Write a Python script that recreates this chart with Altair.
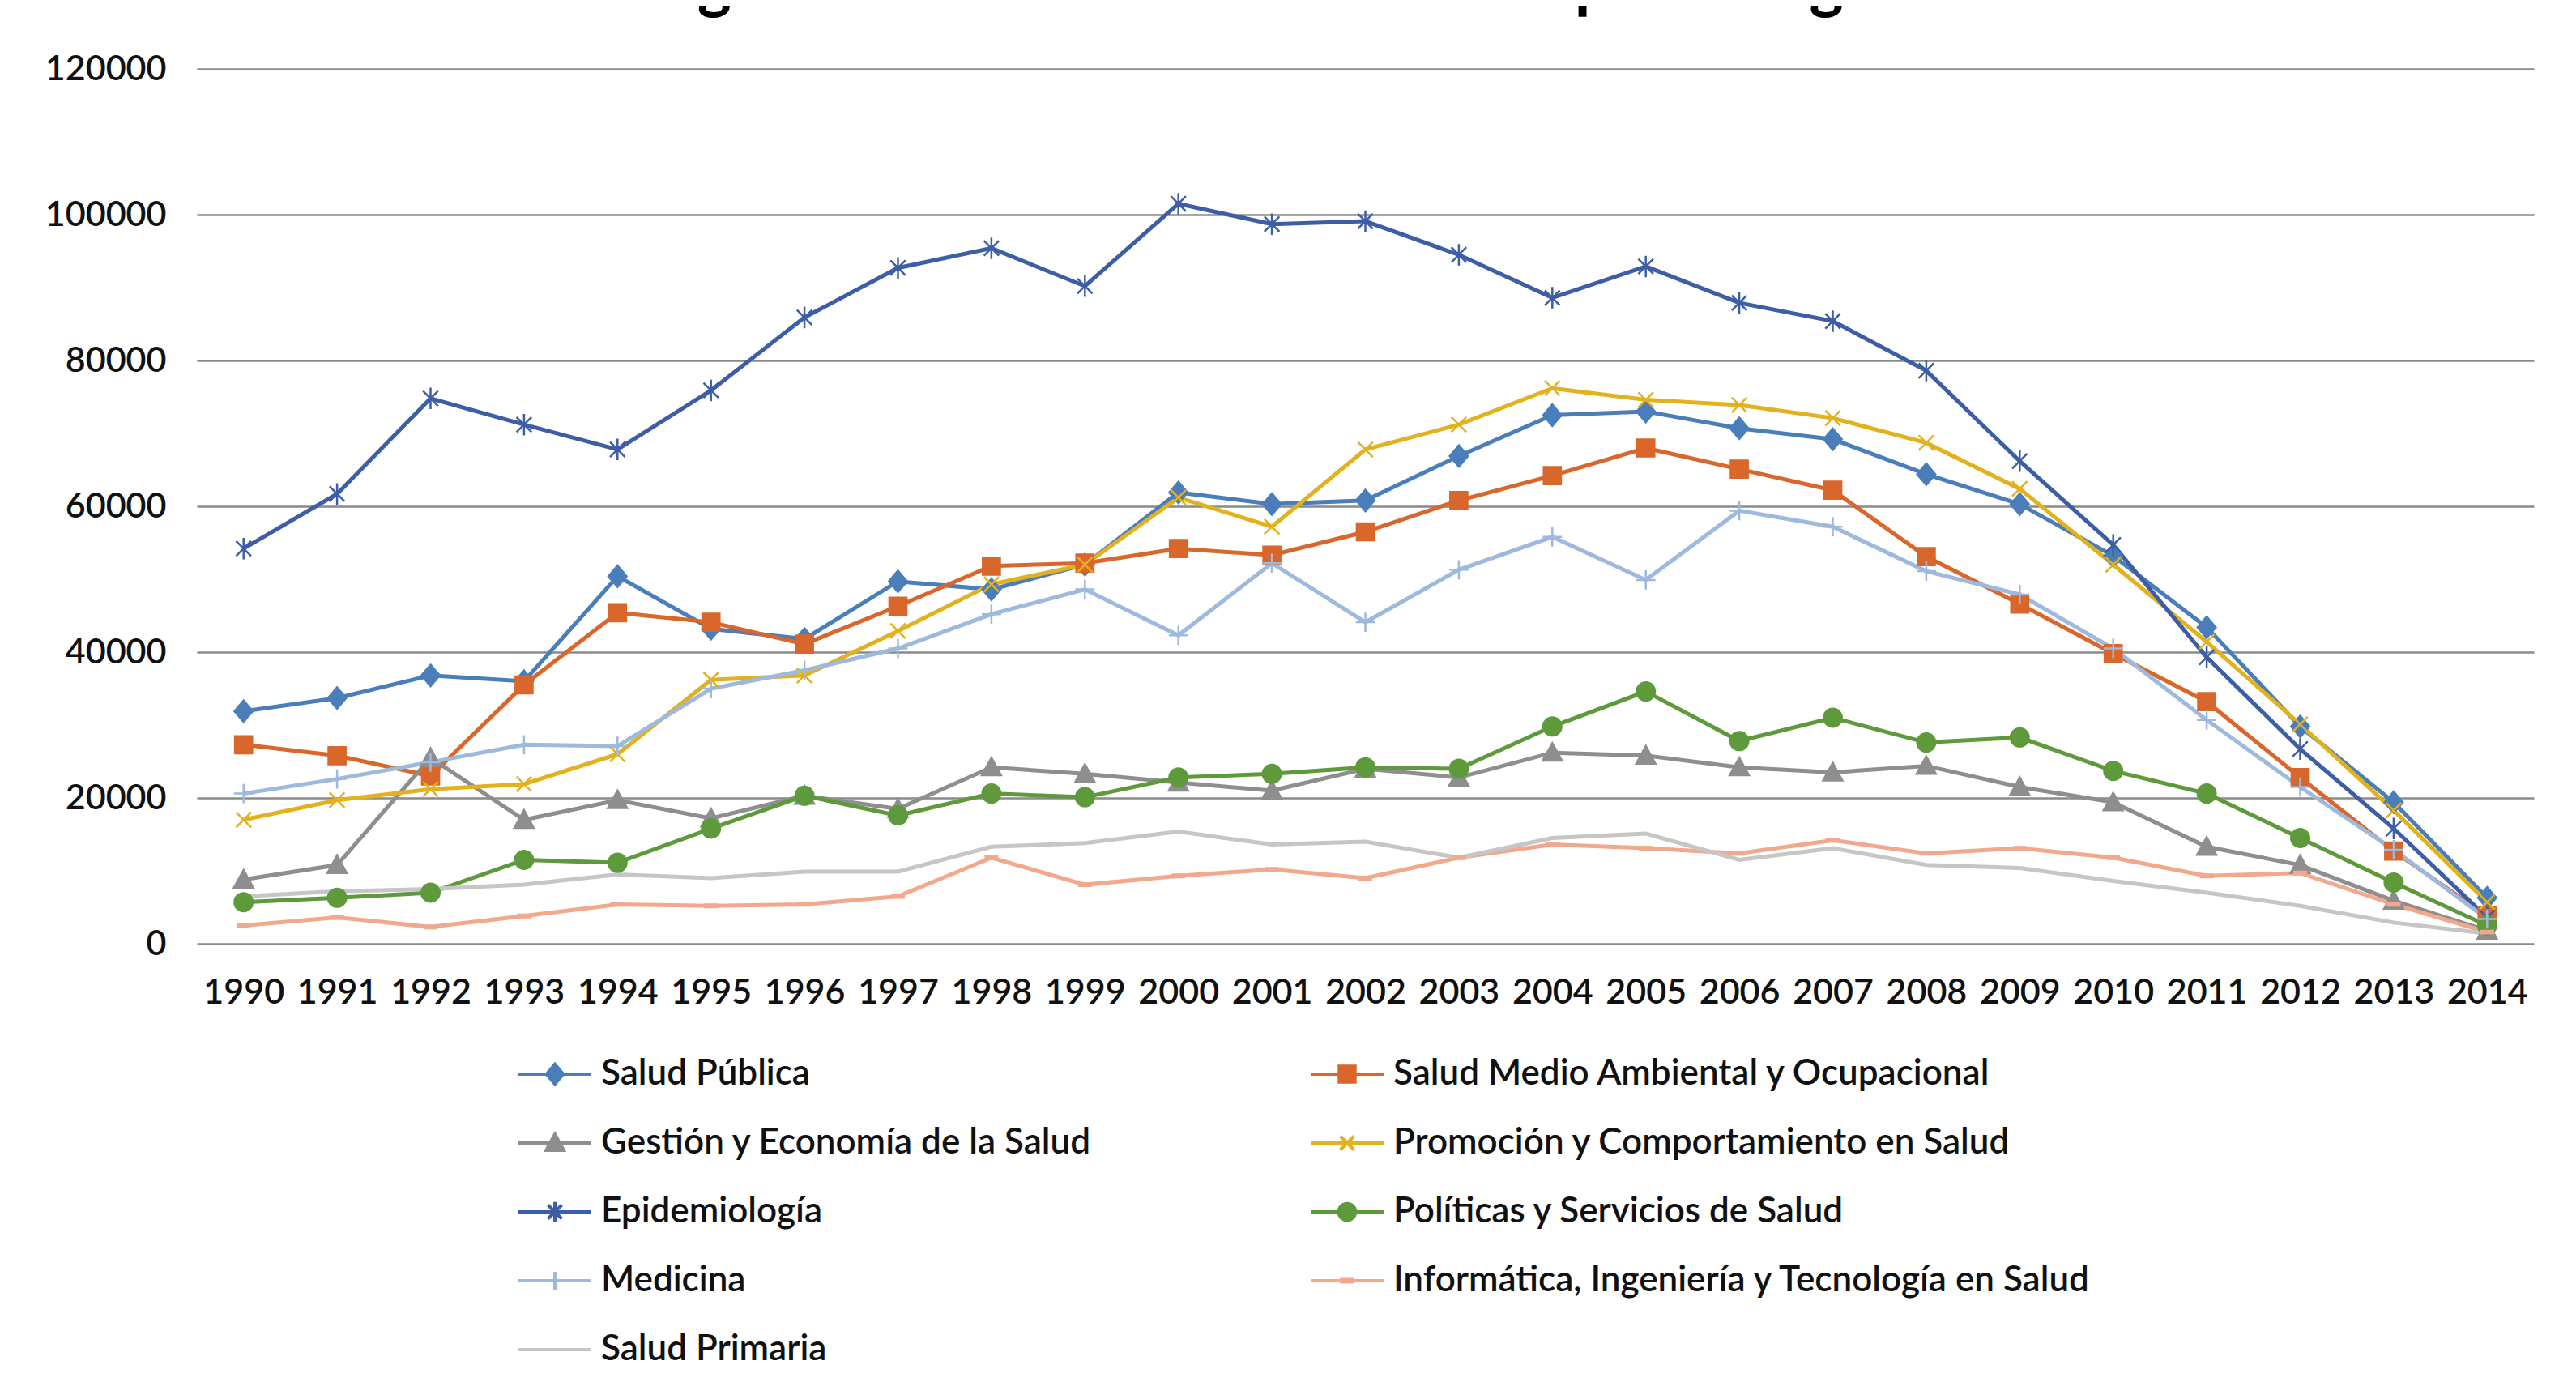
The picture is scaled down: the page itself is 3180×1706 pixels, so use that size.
import altair as alt
import pandas as pd

years = list(range(1990, 2015))

series_names = [
    "Salud Pública",
    "Salud Medio Ambiental y Ocupacional",
    "Gestión y Economía de la Salud",
    "Promoción y Comportamiento en Salud",
    "Epidemiología",
    "Políticas y Servicios de Salud",
    "Medicina",
    "Informática, Ingeniería y Tecnología en Salud",
    "Salud Primaria",
]

salud_publica = [31900, 33700, 36800, 36000, 50400, 43200, 41800, 49700, 48600, 52000,
                 61900, 60300, 60800, 66900, 72500, 73000, 70700, 69200, 64400, 60300,
                 53200, 43400, 29800, 19400, 6300]
medio_ambiental = [27300, 25800, 23000, 35500, 45400, 44100, 41100, 46300, 51800, 52200,
                   54200, 53300, 56500, 60800, 64200, 68000, 65100, 62200, 53100, 46600,
                   39800, 33200, 22800, 12700, 3800]
gestion = [8800, 10800, 25500, 17000, 19700, 17200, 20300, 18500, 24200, 23300,
           22100, 21000, 24000, 22800, 26200, 25800, 24200, 23500, 24400, 21500,
           19400, 13300, 10800, 5900, 1800]
promocion = [17000, 19700, 21200, 21900, 26000, 36200, 36800, 42900, 49300, 52000,
             61200, 57200, 67800, 71200, 76200, 74600, 73900, 72100, 68700, 62400,
             52000, 41400, 30100, 18300, 5700]
epidemiologia = [54200, 61700, 74800, 71200, 67800, 75900, 85900, 92700, 95400, 90200,
                 101500, 98700, 99100, 94500, 88600, 92900, 87900, 85400, 78600, 66200,
                 54700, 39300, 26700, 15800, 3600]
politicas = [5700, 6300, 7000, 11500, 11100, 15800, 20300, 17600, 20600, 20100,
             22800, 23300, 24200, 24000, 29800, 34600, 27800, 31000, 27600, 28300,
             23700, 20600, 14500, 8400, 2500]
medicina = [20600, 22600, 24900, 27300, 27100, 35000, 37500, 40500, 45200, 48600,
            42300, 52200, 44100, 51300, 55800, 49900, 59400, 57200, 51100, 47900,
            40500, 30700, 21500, 12900, 3400]
informatica = [2500, 3600, 2300, 3800, 5400, 5200, 5400, 6500, 11800, 8100,
               9300, 10200, 9000, 11800, 13600, 13100, 12400, 14200, 12400, 13100,
               11800, 9300, 9700, 5400, 1600]
salud_primaria = [6500, 7200, 7500, 8100, 9500, 9000, 9900, 9900, 13300, 13800,
                  15400, 13600, 14000, 11800, 14500, 15100, 11500, 13100, 10800, 10400,
                  8600, 7000, 5200, 2900, 1400]

y_ticks = [0, 20000, 40000, 60000, 80000, 100000, 120000]

series_values = [salud_publica, medio_ambiental, gestion, promocion, epidemiologia,
                 politicas, medicina, informatica, salud_primaria]

colors = ["#4A7EBB", "#D9662B", "#8E8E8E", "#E2B21E", "#3D5EA6",
          "#5E9A3C", "#9DB9DD", "#F2A88C", "#C6C6C6"]

marker_kinds = ["diamond", "square", "triangle", "x", "asterisk",
                "circle", "plus", "dash", "none"]


def marker_path(kind, s):
    def f(v):
        return f"{v * s:.4f}"
    if kind == "diamond":
        return f"M0,{f(-1)}L{f(0.85)},0L0,{f(1)}L{f(-0.85)},0Z"
    if kind == "square":
        return f"M{f(-0.8)},{f(-0.8)}H{f(0.8)}V{f(0.8)}H{f(-0.8)}Z"
    if kind == "triangle":
        return f"M0,{f(-0.9)}L{f(0.9)},{f(0.75)}L{f(-0.9)},{f(0.75)}Z"
    if kind == "x":
        return (f"M{f(-0.7)},{f(-0.7)}L{f(0.7)},{f(0.7)}"
                f"M{f(-0.7)},{f(0.7)}L{f(0.7)},{f(-0.7)}")
    if kind == "asterisk":
        return (f"M{f(-0.7)},{f(-0.7)}L{f(0.7)},{f(0.7)}"
                f"M{f(-0.7)},{f(0.7)}L{f(0.7)},{f(-0.7)}"
                f"M0,{f(-1)}L0,{f(1)}")
    if kind == "circle":
        r = f(0.85)
        return f"M{r},0A{r},{r} 0 1,1 -{r},0A{r},{r} 0 1,1 {r},0Z"
    if kind == "plus":
        return f"M{f(-0.9)},0H{f(0.9)}M0,{f(-0.9)}V{f(0.9)}"
    if kind == "dash":
        return f"M{f(-0.55)},{f(-0.13)}H{f(0.55)}V{f(0.13)}H{f(-0.55)}Z"
    return "M0,0Z"


plot_paths = [marker_path(k, 1.0) for k in marker_kinds]
legend_paths = ["M-1,0H1" + marker_path(k, 0.27) for k in marker_kinds]

rows = []
for name, vals in zip(series_names, series_values):
    for yr, v in zip(years, vals):
        rows.append({"year": yr, "value": v, "series": name})
df = pd.DataFrame(rows)

FONT = "Lato"
WEIGHT = 600

x_enc = alt.X(
    "year:O",
    scale=alt.Scale(type="point", padding=0.5),
    axis=alt.Axis(title=None, labelAngle=0, ticks=False, tickSize=0, domain=False,
                  grid=False, labelPadding=39, labelFontSize=43, labelFont=FONT,
                  labelFontWeight=WEIGHT, labelColor="#111111"),
)
y_enc = alt.Y(
    "value:Q",
    scale=alt.Scale(domain=[0, 120000], nice=False, zero=True),
    axis=alt.Axis(title=None, values=y_ticks, format="d", grid=True,
                  gridColor="#8A8A8A", gridWidth=2.5, ticks=False, tickSize=0,
                  domain=False, labelPadding=38, labelFontSize=43, labelFont=FONT,
                  labelFontWeight=WEIGHT, labelColor="#111111"),
)

base = alt.Chart(df)

lines = base.mark_line(strokeWidth=5).encode(
    x=x_enc,
    y=y_enc,
    color=alt.Color("series:N", scale=alt.Scale(domain=series_names, range=colors),
                    legend=None),
)

points = base.mark_point(filled=True, size=700, strokeWidth=2.5, opacity=1).encode(
    x=x_enc,
    y=y_enc,
    fill=alt.Fill("series:N", scale=alt.Scale(domain=series_names, range=colors),
                  legend=None),
    stroke=alt.Stroke("series:N", scale=alt.Scale(domain=series_names, range=colors),
                      legend=None),
    shape=alt.Shape("series:N", scale=alt.Scale(domain=series_names, range=plot_paths),
                    legend=None),
)

leg = alt.Legend(
    title=None, orient="none", legendX=395, legendY=1194, columns=2,
    direction="horizontal", columnPadding=261, rowPadding=16, symbolSize=8100,
    symbolStrokeWidth=4, symbolOpacity=1, symbolFillColor="#ffffff",
    labelFontSize=44, labelFont=FONT, labelFontWeight=WEIGHT, labelColor="#111111",
    labelOffset=10, labelLimit=0, padding=0,
)

legend_layer = base.mark_point(filled=False, size=8100, strokeWidth=4, opacity=0).encode(
    x=x_enc,
    y=y_enc,
    color=alt.Color("series:N", scale=alt.Scale(domain=series_names, range=colors),
                    legend=leg),
    fill=alt.Fill("series:N", scale=alt.Scale(domain=series_names, range=colors),
                  legend=leg),
    shape=alt.Shape("series:N", scale=alt.Scale(domain=series_names, range=legend_paths),
                    legend=leg),
)

chart = (
    alt.layer(lines, points, legend_layer)
    .resolve_scale(color="independent", fill="independent", stroke="independent",
                   shape="independent")
    .properties(
        width=2885,
        height=1080,
        title=alt.TitleParams(
            "Figura: Total anual de citaciones por categoría",
            fontSize=80, font=FONT, fontWeight="bold", anchor="middle",
            baseline="alphabetic", offset=10, dx=-82, dy=33, color="#000000",
        ),
        autosize=alt.AutoSizeParams(type="none"),
        padding={"left": 235, "top": 77, "right": 44, "bottom": 533},
        background="white",
    )
    .configure_view(stroke=None)
)

chart.save("out.html", embed_options={"renderer": "svg", "actions": False})
